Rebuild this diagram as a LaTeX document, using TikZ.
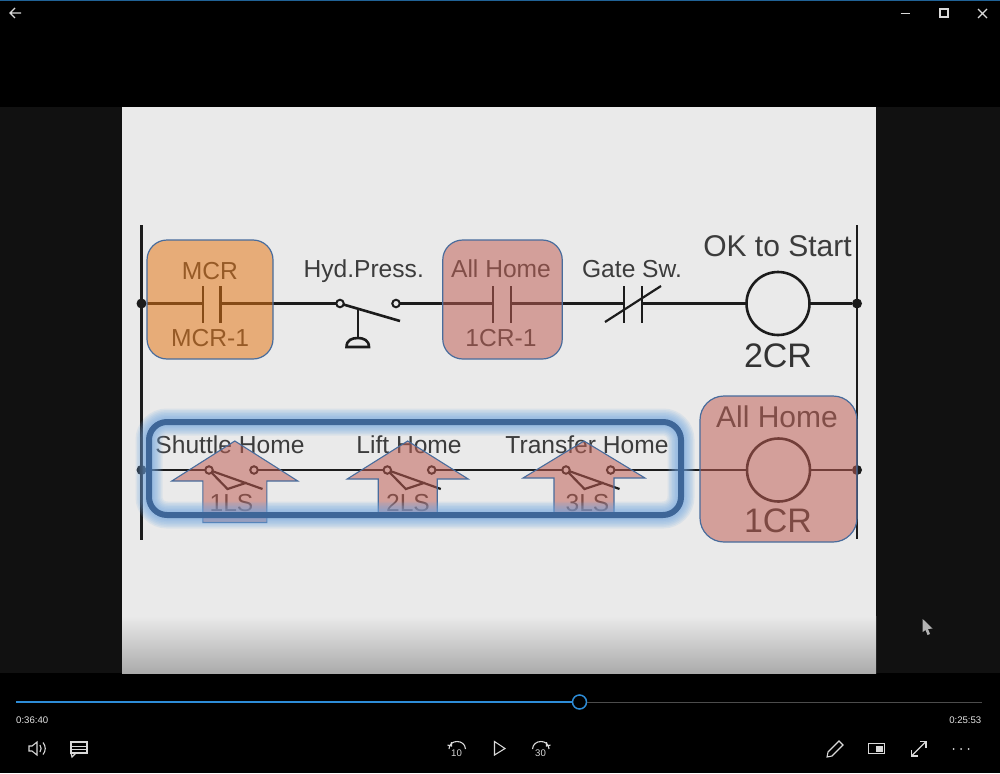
\documentclass[tikz,border=0pt]{standalone}
\usepackage{fontspec}
\setmainfont{Liberation Sans}
\usetikzlibrary{positioning, calc}
\definecolor{colWire}{RGB}{28, 28, 28}
\definecolor{colText}{RGB}{60, 60, 60}
\definecolor{colSlide}{RGB}{234, 234, 234}
\definecolor{colSide}{RGB}{17, 17, 17}
\definecolor{colEdge}{RGB}{72, 108, 156}
\definecolor{colOrange}{RGB}{230, 117, 19}
\definecolor{colPink}{RGB}{192, 94, 83}
\definecolor{colFrame}{RGB}{62, 102, 152}
\definecolor{colGlow}{RGB}{110, 165, 225}
\definecolor{colPlayer}{RGB}{45, 140, 215}
\tikzset{
    wire/.style={draw=colWire, line width=2.6pt},
    icon/.style={draw=white!85!black, line width=1.1pt},
    lbl/.style={text=colText, inner sep=0pt},
    small/.style={lbl, font=\fontsize{24.6}{24.6}\selectfont},
    big/.style={lbl, font=\fontsize{34}{34}\selectfont, text=colWire!90!white},
    timer/.style={text=white!90!black, inner sep=0pt, font=\fontsize{9.6}{9.6}\selectfont},
    railDot/.style={circle, fill=colWire, minimum size=10pt, inner sep=0pt},
    term/.style={circle, draw=colWire, line width=2pt, fill=colSlide, minimum size=7.5pt, inner sep=0pt, outer sep=0pt},
    coil/.style={circle, draw=colWire, line width=2.6pt, minimum size=63pt, inner sep=0pt, outer sep=0pt},
    tint/.style={rectangle, rounded corners=20pt, draw=colEdge, line width=1.2pt, inner sep=0pt, outer sep=0pt},
    glowBox/.style={rectangle, rounded corners=18pt, draw=colGlow, draw opacity=0.13, inner sep=0pt, outer sep=0pt, minimum width=532pt, minimum height=93pt},
}
\begin{document}
\begin{tikzpicture}[x=1pt, y=-1pt]
    % --- Player window ---
    \fill[black] (0, 0) rectangle (1000, 773);
    \fill[colPlayer!70!black] (0, 0) rectangle (1000, 1.2);
    \fill[colSide] (0, 107) rectangle (1000, 673);
    \fill[colSlide] (122, 107) rectangle (876, 616);
    \shade[top color=colSlide, middle color=black!16, bottom color=black!33] (122, 616) rectangle (876, 673);

    % --- Rails ---
    \coordinate (railAT) at (141.5, 225);
    \coordinate (railAB) at (141.5, 540);
    \coordinate (railBT) at (857, 225);
    \coordinate (railBB) at (857, 539);
    \draw[wire, line width=2.8pt] (railAT) -- (railAB);
    \draw[wire, line width=2.8pt] (railBT) -- (railBB);
    \node[railDot] (dotA) at (141.5, 303.5) {};
    \node[railDot] (dotB) at (857, 303.5) {};
    \node[railDot] (dotC) at (141.5, 470) {};
    \node[railDot] (dotD) at (857, 470) {};

    % --- Rung 1 ---
    \coordinate (mcrL) at (203, 303.5);
    \coordinate (mcrR) at (220.5, 303.5);
    \coordinate (homeL) at (493, 303.5);
    \coordinate (homeR) at (511, 303.5);
    \coordinate (gateL) at (624, 303.5);
    \coordinate (gateR) at (642, 303.5);
    \node[term] (hydL) at (340, 303.5) {};
    \node[term] (hydR) at (396, 303.5) {};
    \node[coil] (coilOk) at (778, 303.5) {};
    \draw[wire] (dotA) -- (mcrL);
    \draw[wire] (mcrR) -- (hydL);
    \draw[wire] (hydR) -- (homeL);
    \draw[wire] (homeR) -- (gateL);
    \draw[wire] (gateR) -- (coilOk);
    \draw[wire] (coilOk) -- (dotB);
    % contact plates
    \foreach \x in {203, 220.5, 493, 511, 624, 642} {
        \draw[wire] (\x, 286) -- (\x, 323);
    }
    \draw[wire, line width=2.2pt] (605, 322) -- (661, 286); % slash of Gate Sw.
    % pressure switch
    \coordinate (hydEnd) at (400, 321);
    \coordinate (hydStem) at (358, 310);
    \coordinate (hydFoot) at (358, 338);
    \draw[wire] (hydL) -- (hydEnd);
    \draw[wire] (hydStem) -- (hydFoot);
    \draw[wire] (346.5, 347) -- (369, 347) .. controls (369, 340) and (363, 338) .. (358, 338) .. controls (352, 338) and (346.5, 340) .. (346.5, 347) -- cycle;

    \node[small] (lblMcr) at (210, 271) {MCR};
    \node[small] (lblMcrOne) at (210, 338) {MCR-1};
    \node[small] (lblHyd) at (363.7, 271) {Hyd.Press.};
    \node[small] (lblHome) at (501, 269) {All Home};
    \node[small] (lblCrOne) at (501, 338) {1CR-1};
    \node[small] (lblGate) at (632, 269) {Gate Sw.};
    \node[lbl, font=\fontsize{30}{30}\selectfont] (lblOk) at (777.5, 246) {OK to Start};
    \node[big] (lblTwo) at (778, 356) {2CR};

    \node[tint, fill=colOrange, fill opacity=0.53, minimum width=126pt, minimum height=119pt] (boxMcr) at (210, 299.5) {};
    \node[tint, fill=colPink, fill opacity=0.53, minimum width=119.5pt, minimum height=119pt] (boxHome) at (502.5, 299.5) {};

    % --- Rung 2 ---
    \foreach \id/\a/\b in {1/209/254, 2/387.3/431.7, 3/566/610.7} {
        \node[term] (ls\id L) at (\a, 470) {};
        \node[term] (ls\id R) at (\b, 470) {};
        \coordinate (ls\id E) at (\a+53.5, 489);
        \coordinate (ls\id K) at (\a+18.5, 489);
        \coordinate (ls\id M) at (\a+37.5, 482.7);
        \draw[wire, line width=2.2pt] (ls\id L) -- (ls\id E);
        \draw[wire, line width=2.2pt] (ls\id L) -- (ls\id K) -- (ls\id M);
    }
    \node[coil] (coilHome) at (778.5, 470) {};
    \draw[wire] (dotC) -- (ls1L);
    \draw[wire] (ls1R) -- (ls2L);
    \draw[wire] (ls2R) -- (ls3L);
    \draw[wire] (ls3R) -- (coilHome);
    \draw[wire] (coilHome) -- (dotD);

    \node[small] (lblShuttle) at (230, 445) {Shuttle Home};
    \node[small] (lblLift) at (409, 445) {Lift Home};
    \node[small] (lblTransfer) at (587, 445) {Transfer Home};
    \node[small] (lblLsA) at (231.5, 503) {1LS};
    \node[small] (lblLsB) at (408, 503) {2LS};
    \node[small] (lblLsC) at (587.5, 503) {3LS};
    \node[lbl, font=\fontsize{30}{30}\selectfont] (lblAll) at (777, 417) {All Home};
    \node[big] (lblOne) at (778, 521) {1CR};

    % Arrows (tint over the switches)
    \foreach \c/\w/\s/\y/\b in {234.8/63/32/481/522.5, 407.7/60.5/29.5/479/513, 584/61/30/478/513} {
        \draw[draw=colEdge, line width=1.1pt, fill=colPink, fill opacity=0.53] (\c, 441) -- (\c+\w, \y) -- (\c+\s, \y) -- (\c+\s, \b) -- (\c-\s, \b) -- (\c-\s, \y) -- (\c-\w, \y) -- cycle;
    }
    \node[tint, rounded corners=24pt, fill=colPink, fill opacity=0.53, minimum width=157pt, minimum height=146pt] (boxAll) at (778.5, 469) {};

    % Frame with glow
    \foreach \w in {27, 24, 21, 18, 15, 12, 9} {
        \node[glowBox, line width=\w pt] (glow\w) at (415, 468.5) {};
    }
    \node[glowBox, draw=colFrame, draw opacity=1, line width=6pt] (frameHome) at (415, 468.5) {};

    % --- Controls ---
    \coordinate (barStart) at (16, 702);
    \coordinate (barEnd) at (982, 702);
    \node[circle, draw=colPlayer, line width=1.5pt, fill=black, minimum size=14pt, inner sep=0pt] (knob) at (579.5, 702) {};
    \draw[draw=black!70, line width=1pt] (knob) -- (barEnd);
    \draw[draw=colPlayer, line width=1.2pt] (barStart) -- (knob);
    \node[timer, anchor=west] (timeLeft) at (16, 720) {0:36:40};
    \node[timer, anchor=east] (timeRight) at (981.5, 720) {0:25:53};

    % title bar
    \draw[icon] (10, 13) -- (21, 13) (15, 8) -- (10, 13) -- (15, 18);
    \draw[icon] (900.5, 13.5) -- (909.5, 13.5);
    \draw[icon] (940, 9) rectangle (948, 17);
    \draw[icon] (978, 9) -- (987, 18) (987, 9) -- (978, 18);

    % speaker
    \draw[icon] (29, 746) -- (32, 746) -- (37, 742) -- (37, 755) -- (32, 751) -- (29, 751) -- cycle;
    \draw[icon] (40, 745) .. controls (41.5, 747) and (41.5, 750) .. (40, 752);
    \draw[icon] (43, 742.5) .. controls (46, 746) and (46, 751) .. (43, 754.5);
    % captions
    \draw[icon] (71, 742) rectangle (87, 753);
    \draw[icon] (71, 753) -- (72, 757) -- (76, 753);
    \foreach \y in {746, 749} {
        \draw[icon, line width=0.8pt] (72, \y) -- (86, \y);
    }
    % skip back
    \draw[icon] (449, 749) .. controls (449, 739) and (465, 739) .. (465.5, 749);
    \draw[icon] (447.5, 745) -- (451.5, 746) -- (451.5, 742);
    \node[timer, text=white!85!black] (lblBack) at (456.5, 752.7) {10};
    % play
    \draw[icon] (494.5, 741.5) -- (505, 748.5) -- (494.5, 755) -- cycle;
    % skip forward
    \draw[icon] (532.5, 749) .. controls (533, 739) and (549, 739) .. (549, 749);
    \draw[icon] (550.5, 745) -- (546.5, 746) -- (546.5, 742);
    \node[timer, text=white!85!black] (lblFwd) at (540.5, 752.7) {30};
    % pen
    \draw[icon] (827, 757) -- (828, 752) -- (839, 741) -- (843, 745) -- (832, 756) -- cycle;
    % mini view
    \draw[icon] (868.5, 743.5) rectangle (884.5, 753.5);
    \draw[icon, fill=white!85!black, line width=0.6pt] (876, 746.5) rectangle (882.5, 751.5);
    % expand
    \draw[icon] (911.5, 756) -- (926, 741.5);
    \draw[icon] (911.5, 750) -- (911.5, 756) -- (917.5, 756);
    \draw[icon] (920, 741.5) -- (926, 741.5) -- (926, 747.5);
    % more
    \foreach \x in {953.5, 961, 968.5} {
        \fill[white!85!black] (\x, 749) circle (1pt);
    }
    % mouse pointer
    \fill[white!70!black] (922.7, 619) -- (932.5, 628.5) -- (928, 629) -- (930, 634) -- (927.5, 635) -- (925.5, 630) -- (922.7, 632) -- cycle;
\end{tikzpicture}
\end{document}
